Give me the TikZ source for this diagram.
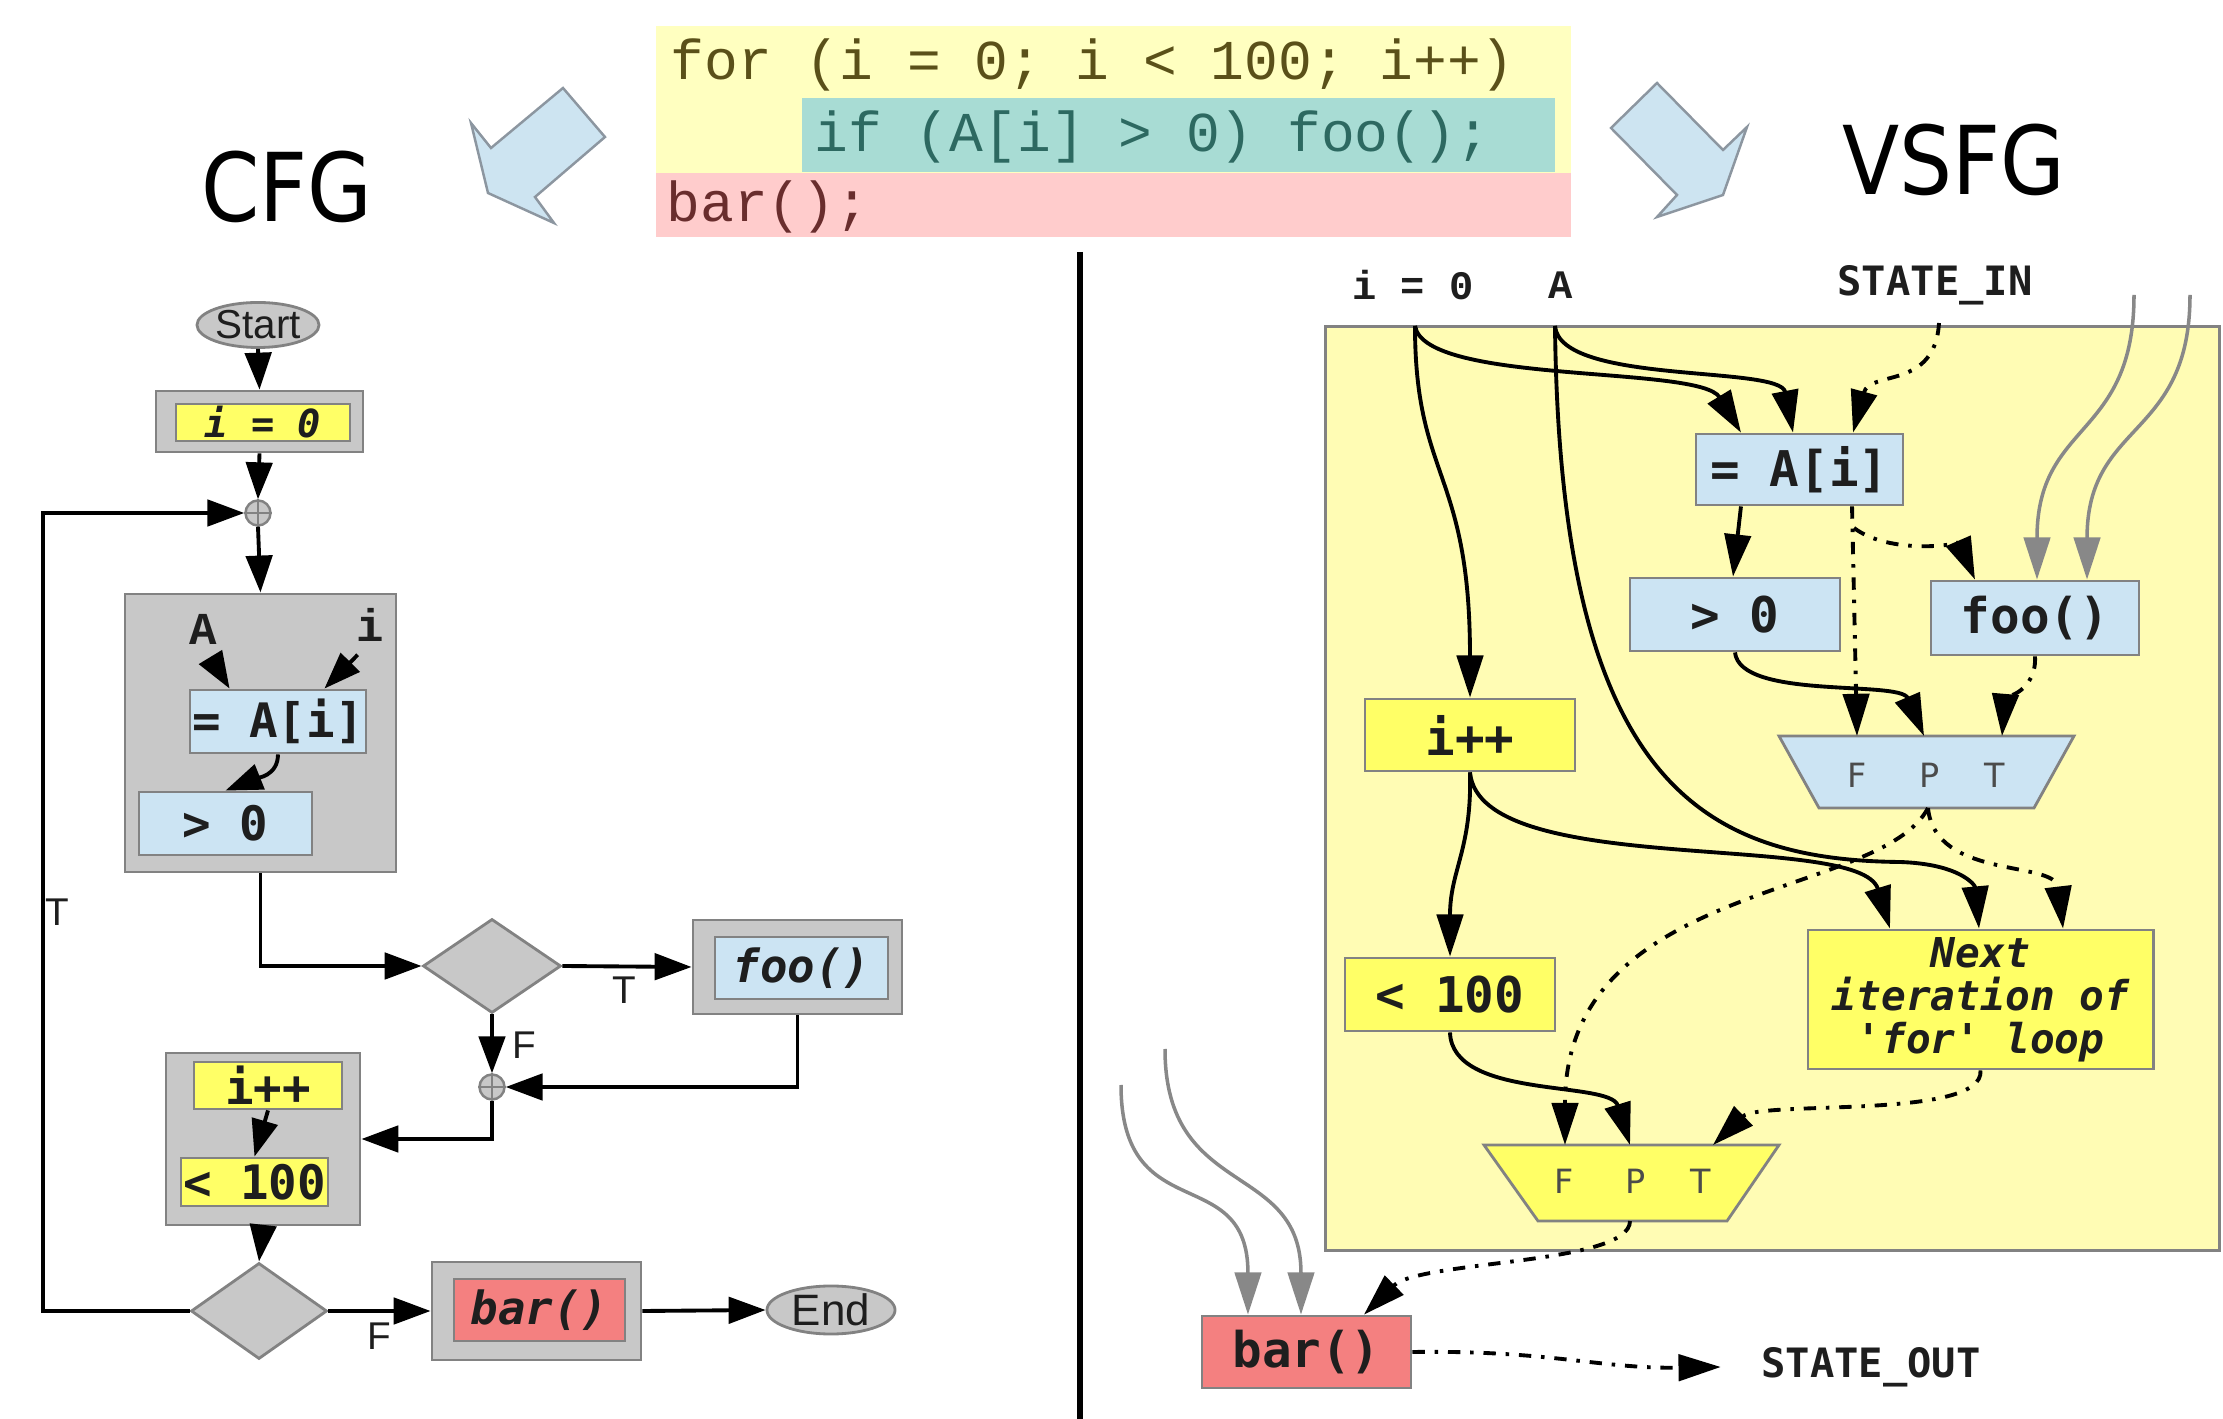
\documentclass[tikz,border=0pt]{standalone}
\usepackage{fontspec}
\setmainfont{DejaVu Sans}
\newfontfamily\codefont{Liberation Mono}[Ligatures=TeXOff]
\newfontfamily\dmono{DejaVu Sans Mono}[Ligatures=TeXOff]
\newfontfamily\lmono{Liberation Mono}[Ligatures=TeXOff]
\newfontfamily\lsans{Liberation Sans}
\usetikzlibrary{arrows.meta,shapes.geometric,calc}
\newcommand{\myfs}[1]{\fontsize{#1pt}{#1pt}\selectfont}
\definecolor{cgray}{RGB}{200,200,200}
\definecolor{bgray}{RGB}{130,130,130}
\definecolor{lblue}{RGB}{204,228,243}
\definecolor{byel}{RGB}{255,255,102}
\definecolor{pyel}{RGB}{255,252,180}
\definecolor{rred}{RGB}{244,128,128}
\definecolor{cyel}{RGB}{255,255,192}
\definecolor{cteal}{RGB}{168,220,212}
\definecolor{cpink}{RGB}{255,204,204}
\definecolor{tolive}{RGB}{90,80,25}
\definecolor{tteal}{RGB}{45,105,97}
\definecolor{tred}{RGB}{105,45,45}
\definecolor{ablue}{RGB}{205,228,241}
\definecolor{aedge}{RGB}{140,150,160}
\definecolor{ggray}{RGB}{136,136,136}
\definecolor{tdark}{RGB}{30,30,30}
\tikzset{
  cbox/.style={draw=bgray, fill=cgray, line width=0.8pt, inner sep=0pt},
  bin/.style={draw=bgray, fill=lblue, line width=0.8pt, inner sep=0pt},
  yin/.style={draw=bgray, fill=byel, line width=0.8pt, inner sep=0pt},
  rin/.style={draw=bgray, fill=rred, line width=0.8pt, inner sep=0pt},
  cdia/.style={diamond, draw=bgray, fill=cgray, line width=0.8pt, inner sep=0pt},
  cell/.style={ellipse, draw=bgray, fill=cgray, line width=0.8pt, inner sep=0pt, font=\lsans\myfs{11.5}, text=tdark},
  mergept/.style={circle, draw=bgray, fill=cgray, line width=0.7pt, inner sep=0pt, minimum size=0.25cm},
  carr/.style={-{Triangle[length=10.5pt,width=7.5pt]}, line width=1.1pt},
  varr/.style={-{Triangle[length=12pt,width=7.5pt]}, line width=1.1pt},
  vdd/.style={varr, dash pattern=on 3.5pt off 2.8pt on 1pt off 2.8pt},
  garr/.style={-{Triangle[length=12pt,width=7.5pt]}, line width=1pt, color=ggray},
  clab/.style={font=\lsans\myfs{11}, inner sep=0pt, text=tdark},
  cmono/.style={font=\dmono\bfseries\myfs{13.5}, text=tdark},
  cital/.style={font=\dmono\bfseries\itshape\myfs{13}, text=tdark},
  vtxt/.style={font=\dmono\bfseries\myfs{14}, text=tdark},
  muxtxt/.style={font=\myfs{9.5}, text=tdark!80, inner sep=0pt},
  toplab/.style={font=\lmono\bfseries\myfs{11.5}, text=tdark, inner sep=0pt},
  codetxt/.style={font=\codefont\myfs{16}, anchor=base west, inner sep=0pt},
}
\begin{document}
\begin{tikzpicture}[x=0.01cm,y=-0.01cm]
\path[use as bounding box] (0,0) rectangle (2223,1419);

% ---------- code listing ----------
\fill[cyel] (656,26) rectangle (1571,173);
\fill[cpink] (656,173) rectangle (1571,237);
\fill[cteal] (802,98) rectangle (1555,172);
\node[codetxt, text=tolive] (code1) at (670,80) {for (i = 0; i < 100; i++)};
\node[codetxt, text=tteal] (code2) at (814,152) {if (A[i] > 0) foo();};
\node[codetxt, text=tred] (code3) at (666,222) {bar();};

% ---------- big arrows and titles ----------
\filldraw[fill=ablue, draw=aedge, line width=0.7pt]
  (563,88) -- (605,137) -- (535,197) -- (554,223) -- (488,193) -- (471,123) -- (491,148) -- cycle;
\filldraw[fill=ablue, draw=aedge, line width=0.7pt]
  (1657,83) -- (1723,150) -- (1747,127) -- (1723,195) -- (1657,217) -- (1677,195) -- (1611,128) -- cycle;
\node[font=\myfs{27}, inner sep=0pt] (cfgtitle) at (287,187) {\scalebox{0.88}[1]{CFG}};
\node[font=\myfs{27}, inner sep=0pt] (vsfgtitle) at (1954,160) {\scalebox{0.88}[1]{VSFG}};

% divider
\coordinate (divtop) at (1080,252);
\coordinate (divbot) at (1080,1419);
\draw[line width=1.5pt] (divtop) -- (divbot);

% ---------- CFG ----------
\node[cell, minimum width=1.22cm, minimum height=0.45cm] (cstart) at (258,325) {Start};
\node[cbox, minimum width=2.07cm, minimum height=0.61cm] (ci0o) at (259.5,421.5) {};
\node[yin, minimum width=1.74cm, minimum height=0.37cm, font=\dmono\bfseries\itshape\myfs{11}, text=tdark] (ci0) at (263,422.5) {i = 0};
\node[mergept] (cm1) at (258,513) {};
\draw[bgray, line width=0.6pt] (cm1.north) -- (cm1.south) (cm1.west) -- (cm1.east);

\node[cbox, minimum width=2.71cm, minimum height=2.78cm] (cbig) at (260.5,733) {};
\node[font=\lmono\bfseries\myfs{13}, text=tdark, inner sep=0pt] (cA) at (203,629) {A};
\node[font=\lmono\bfseries\myfs{13}, text=tdark, inner sep=0pt] (ci) at (370,625) {i};
\node[bin, cmono, minimum width=1.76cm, minimum height=0.63cm] (cai) at (278,721.5) {= A[i]};
\node[bin, cmono, minimum width=1.73cm, minimum height=0.63cm] (cgt) at (225.5,823.5) {> 0};

\node[cdia, minimum width=1.38cm, minimum height=0.94cm] (cd1) at (492,966) {};
\node[cbox, minimum width=2.09cm, minimum height=0.94cm] (cfooo) at (797.5,967) {};
\node[bin, cital, minimum width=1.73cm, minimum height=0.62cm] (cfoo) at (801.5,968) {foo()};
\node[mergept] (cm2) at (492,1087) {};
\draw[bgray, line width=0.6pt] (cm2.north) -- (cm2.south) (cm2.west) -- (cm2.east);

\node[cbox, minimum width=1.94cm, minimum height=1.72cm] (cinc) at (263,1139) {};
\node[yin, cmono, minimum width=1.48cm, minimum height=0.47cm] (cinci) at (268,1085.5) {i++};
\node[yin, cmono, minimum width=1.47cm, minimum height=0.48cm] (clt) at (254.5,1182) {< 100};

\node[cdia, minimum width=1.36cm, minimum height=0.96cm] (cd2) at (259,1311) {};
\node[cbox, minimum width=2.09cm, minimum height=0.98cm] (cbaro) at (536.5,1311) {};
\node[rin, cital, minimum width=1.71cm, minimum height=0.62cm] (cbar) at (539.5,1310) {bar()};
\node[cell, minimum width=1.28cm, minimum height=0.48cm, font=\lsans\myfs{12.5}] (cend) at (831,1310) {End};

% CFG edges
\draw[carr] (cstart.south) -- (ci0o.north);
\draw[carr] (ci0o.south) -- (cm1.north);
\draw[carr] (cm1.south) -- (cbig.north);
\draw[carr, shorten <=5pt] (cA.south) -- ([xshift=0.41cm]cai.north west);
\draw[carr, shorten <=5pt] (ci.south) -- ([xshift=-0.43cm]cai.north east);
\draw[carr] (cai.south) .. controls +(0,22) and +(30,-12) .. (cgt.north);
\draw[carr] (cbig.south) |- (cd1.west);
\draw[carr] (cd1.east) -- (cfooo.west);
\draw[carr] (cd1.south) -- (cm2.north);
\draw[carr] (cfooo.south) |- (cm2.east);
\draw[carr] (cm2.south) |- (cinc.east);
\draw[carr] (cinci.south) -- (clt.north);
\draw[carr] (cinc.south) -- (cd2.north);
\coordinate (loopc) at (43,1311);
\draw[carr] (cd2.west) -- (loopc) |- (cm1.west);
\draw[carr] (cd2.east) -- (cbaro.west);
\draw[carr] (cbaro.east) -- (cend.west);
\node[clab] (cT1) at (57,912) {T};
\node[clab] (cT2) at (624,990) {T};
\node[clab] (cF1) at (524,1045) {F};
\node[clab] (cF2) at (379,1336) {F};

% ---------- VSFG ----------
\node[draw=bgray, fill=pyel, line width=0.9pt, minimum width=8.93cm, minimum height=9.23cm, inner sep=0pt] (vbg) at (1772.5,788.5) {};
\node[toplab] (vi0) at (1413,285) {i = 0};
\node[toplab] (vA) at (1561,285) {A};
\node[font=\dmono\bfseries\myfs{11.5}, text=tdark, inner sep=0pt] (vsin) at (1935,285) {STATE\_IN};

\node[bin, vtxt, minimum width=2.07cm, minimum height=0.71cm] (vai) at (1799.5,469.5) {= A[i]};
\node[bin, vtxt, minimum width=2.10cm, minimum height=0.73cm] (vgt) at (1735,614.5) {> 0};
\node[bin, vtxt, minimum width=2.08cm, minimum height=0.74cm] (vfoo) at (2035,618) {foo()};
\node[yin, vtxt, minimum width=2.10cm, minimum height=0.72cm] (vinc) at (1470,735) {i++};
\node[yin, vtxt, minimum width=2.10cm, minimum height=0.73cm] (vlt) at (1450,994.5) {< 100};
\node[yin, minimum width=3.45cm, minimum height=1.39cm, align=center, text=tdark,
      font=\dmono\bfseries\itshape\fontsize{11.7pt}{12.2pt}\selectfont] (vnext) at (1980.5,999.5) {Next\\iteration of\\'for' loop};
\node[rin, vtxt, minimum width=2.09cm, minimum height=0.72cm] (vbar) at (1306.5,1352) {bar()};
\node[font=\dmono\bfseries\myfs{11.5}, text=tdark, inner sep=0pt] (vsout) at (1871,1367) {STATE\_OUT};

% muxes
\filldraw[fill=lblue, draw=bgray, line width=0.8pt] (1779,736) -- (2074,736) -- (2034,808) -- (1819,808) -- cycle;
\node[muxtxt] (bmFt) at (1857,775) {F};
\node[muxtxt] (bmPt) at (1930,775) {P};
\node[muxtxt] (bmTt) at (1995,775) {T};
\coordinate (bmF) at (1857,736);
\coordinate (bmP) at (1924,736);
\coordinate (bmT) at (2002,736);
\coordinate (bmO) at (1928,808);

\filldraw[fill=byel, draw=bgray, line width=0.8pt] (1484,1145) -- (1779,1145) -- (1727,1221) -- (1538,1221) -- cycle;
\node[muxtxt] (ymFt) at (1564,1181) {F};
\node[muxtxt] (ymPt) at (1636,1181) {P};
\node[muxtxt] (ymTt) at (1701,1181) {T};
\coordinate (ymF) at (1565,1145);
\coordinate (ymP) at (1630,1145);
\coordinate (ymT) at (1713,1145);
\coordinate (ymO) at (1630,1221);

% sources
\coordinate (vi0s) at (1415,326);
\coordinate (vAs) at (1555,326);
\coordinate (vsins) at (1939,323);
\coordinate (g1) at (2134,295);
\coordinate (g2) at (2190,295);
\coordinate (g3) at (1121,1085);
\coordinate (g4) at (1165,1049);
\coordinate (vbr) at (1854,528);

% VSFG edges
\draw[varr] (vi0s) .. controls (1415,480) and (1470,470) .. (vinc.north);
\draw[varr] (vi0s) .. controls (1425,385) and (1700,365) .. ([xshift=-0.585cm]vai.north);
\draw[varr] (vAs) .. controls (1560,385) and (1780,365) .. ([xshift=-0.065cm]vai.north);
\draw[vdd] (vsins) .. controls (1935,390) and (1870,370) .. ([xshift=0.535cm]vai.north);
\draw[varr] (vAs) .. controls (1560,780) and (1700,860) .. (1900,862) .. controls (1960,864) and (1975,885) .. ([xshift=-0.015cm]vnext.north);
\draw[varr] ([xshift=-0.585cm]vai.south) -- ([xshift=-0.02cm]vgt.north);
\draw[vdd] ([xshift=0.525cm]vai.south) -- (bmF);
\draw[vdd] (vbr) .. controls (1890,555) and (1960,545) .. ([xshift=-0.6cm]vfoo.north);
\draw[garr] (g1) .. controls (2134,440) and (2037,420) .. ([xshift=0.02cm]vfoo.north);
\draw[garr] (g2) .. controls (2190,440) and (2087,420) .. ([xshift=0.52cm]vfoo.north);
\draw[varr] (vgt.south) .. controls (1740,700) and (1900,680) .. (bmP);
\draw[vdd] (vfoo.south) .. controls (2037,690) and (2005,700) .. (bmT);
\draw[varr] (vinc.south) .. controls (1472,850) and (1450,870) .. (vlt.north);
\draw[varr] (vinc.south) .. controls (1480,880) and (1860,830) .. ([xshift=-0.905cm]vnext.north);
\draw[vdd] (bmO) .. controls (1935,880) and (2055,860) .. ([xshift=0.825cm]vnext.north);
\draw[vdd] (bmO) .. controls (1880,900) and (1565,880) .. (ymF);
\draw[varr] (vlt.south) .. controls (1452,1100) and (1610,1080) .. (ymP);
\draw[vdd] (vnext.south) .. controls (1985,1120) and (1760,1100) .. (ymT);
\draw[vdd] (ymO) .. controls (1630,1265) and (1420,1260) .. ([xshift=0.575cm]vbar.north);
\draw[garr] (g3) .. controls (1121,1230) and (1248,1160) .. ([xshift=-0.585cm]vbar.north);
\draw[garr] (g4) .. controls (1165,1200) and (1301,1160) .. ([xshift=-0.055cm]vbar.north);
\draw[vdd] (vbar.east) .. controls (1550,1350) and (1600,1369) .. ([xshift=-0.4cm]vsout.west);
\end{tikzpicture}
\end{document}
